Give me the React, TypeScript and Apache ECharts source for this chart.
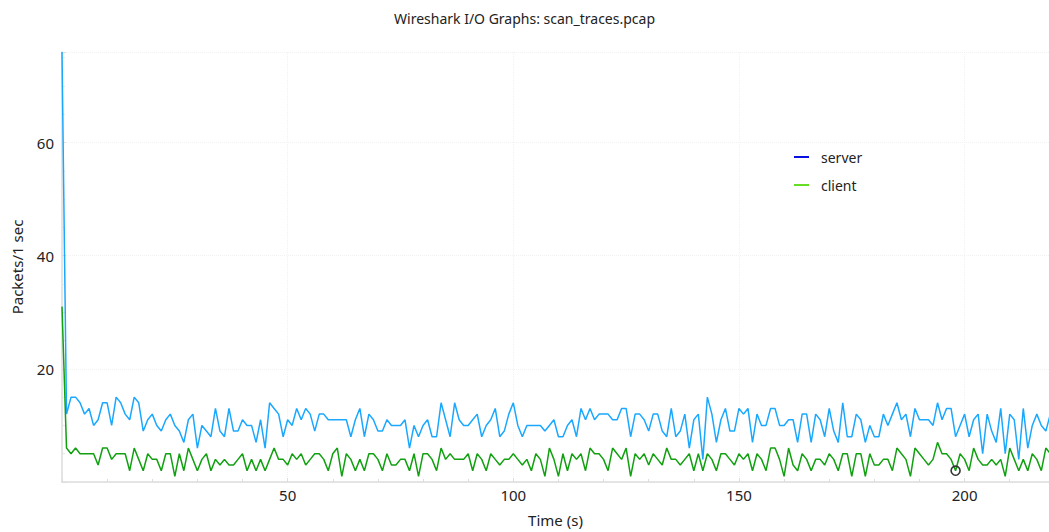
import { useEffect, useRef } from "react";
import * as echarts from "echarts";

const chartTitle = "Wireshark I/O Graphs: scan_traces.pcap";
const xAxisName = "Time (s)";
const yAxisName = "Packets/1 sec";
const seriesNames = ["server", "client"];

// packets per 1-second interval, starting at t = 0
const serverValues = [
  76, 12, 15, 15, 14, 12, 13, 10, 11, 14, 14, 10, 15, 14, 12, 11, 15, 14, 9, 11,
  12, 10, 9, 11, 12, 10, 9, 7, 11, 12, 6, 10, 9, 8, 13, 9, 8, 13, 9, 9,
  11, 10, 10, 7, 11, 6, 14, 13, 12, 8, 11, 10, 13, 11, 13, 12, 9, 12, 12, 11,
  11, 11, 11, 11, 8, 11, 13, 8, 12, 11, 9, 9, 11, 10, 10, 10, 11, 6, 10, 8,
  10, 11, 8, 8, 14, 11, 8, 14, 11, 10, 10, 11, 12, 8, 10, 11, 13, 8, 9, 12,
  14, 10, 8, 10, 10, 10, 10, 9, 10, 11, 8, 8, 10, 11, 8, 13, 11, 13, 11, 12,
  12, 12, 11, 11, 13, 13, 8, 12, 12, 11, 9, 12, 12, 9, 8, 13, 8, 9, 12, 6,
  11, 12, 4, 15, 12, 7, 11, 13, 9, 9, 13, 12, 13, 7, 12, 10, 10, 13, 13, 10,
  10, 11, 11, 7, 12, 12, 7, 12, 11, 8, 13, 9, 7, 14, 8, 8, 12, 11, 7, 10,
  8, 8, 12, 10, 12, 14, 11, 12, 8, 13, 11, 11, 11, 10, 14, 11, 13, 13, 8, 10,
  12, 8, 11, 12, 5, 12, 9, 7, 13, 5, 12, 11, 4, 13, 6, 10, 12, 10, 9, 12,
];

const clientValues = [
  31, 6, 5, 6, 5, 5, 5, 5, 3, 6, 6, 4, 5, 5, 5, 2, 6, 4, 2, 5,
  4, 4, 2, 5, 5, 1, 5, 2, 6, 4, 2, 4, 5, 2, 4, 3, 4, 3, 3, 4,
  5, 2, 4, 2, 4, 2, 4, 6, 4, 4, 3, 5, 4, 5, 3, 4, 5, 5, 4, 2,
  5, 6, 1, 5, 4, 2, 4, 2, 5, 5, 4, 2, 5, 3, 3, 4, 4, 2, 5, 1,
  5, 5, 4, 2, 6, 4, 5, 4, 4, 4, 5, 2, 5, 4, 2, 5, 4, 3, 4, 4,
  5, 4, 3, 4, 2, 5, 4, 1, 6, 4, 1, 5, 2, 5, 4, 5, 2, 6, 5, 5,
  4, 2, 6, 5, 4, 6, 1, 5, 4, 5, 3, 5, 4, 3, 6, 4, 4, 3, 4, 5,
  2, 5, 2, 5, 4, 2, 5, 5, 4, 3, 5, 4, 5, 2, 5, 4, 2, 6, 6, 4,
  1, 6, 3, 2, 5, 4, 2, 4, 4, 3, 5, 4, 2, 5, 5, 1, 5, 5, 1, 5,
  3, 3, 4, 4, 2, 6, 5, 4, 1, 6, 5, 4, 3, 4, 7, 5, 5, 4, 2, 5,
  4, 2, 6, 4, 3, 3, 4, 3, 4, 1, 6, 4, 2, 4, 2, 5, 4, 2, 6, 5,
];

const selectedTime = 198;
const xMax = 218.7;
const yMax = 76;

const FONT = "Noto Sans";

export default function App() {
  const ref = useRef<HTMLDivElement>(null);

  useEffect(() => {
    if (!ref.current) return;
    const chart = echarts.init(ref.current, null, { renderer: "svg" });
    const serverData = serverValues.map((v, i) => [i, v]);
    const clientData = clientValues.map((v, i) => [i, v]);

    chart.setOption({
      animation: false,
      backgroundColor: "#ffffff",
      textStyle: { fontFamily: FONT },
      title: {
        text: chartTitle,
        left: "center",
        top: 6,
        textStyle: { fontFamily: FONT, fontSize: 14, fontWeight: "normal", color: "#222" },
      },
      legend: {
        orient: "vertical",
        left: 789,
        top: 145,
        icon: "rect",
        itemWidth: 15,
        itemHeight: 2,
        itemGap: 14,
        textStyle: { fontFamily: FONT, fontSize: 14, color: "#222", padding: [0, 0, 0, 7] },
        data: [
          { name: seriesNames[0], itemStyle: { color: "#0a10e0" } },
          { name: seriesNames[1], itemStyle: { color: "#66dd22" } },
        ],
      },
      grid: { left: 62, right: 0, top: 52, bottom: 48, containLabel: false },
      xAxis: {
        type: "value",
        min: 0,
        max: xMax,
        interval: 50,
        name: xAxisName,
        nameLocation: "middle",
        nameGap: 30,
        nameTextStyle: { fontFamily: FONT, fontSize: 15, color: "#222" },
        axisLine: { show: true, lineStyle: { color: "#dddddd", width: 1.5 } },
        axisTick: { show: true, inside: true, length: 4, lineStyle: { color: "#dddddd" } },
        minorTick: { show: true, splitNumber: 5, length: 3, lineStyle: { color: "#dddddd" } },
        axisLabel: {
          fontFamily: FONT,
          fontSize: 15,
          color: "#222",
          margin: 5,
          showMinLabel: false,
          showMaxLabel: false,
          formatter: (v: number) => (v === 0 ? "" : String(v)),
        },
        splitLine: { show: true, lineStyle: { color: "#f2f2f2", type: "dotted" } },
      },
      yAxis: {
        type: "value",
        min: 0,
        max: yMax,
        interval: 20,
        name: yAxisName,
        nameLocation: "middle",
        nameRotate: 90,
        nameGap: 38,
        nameTextStyle: { fontFamily: FONT, fontSize: 15, color: "#222" },
        axisLine: { show: true, lineStyle: { color: "#dddddd", width: 1.5 } },
        axisTick: { show: true, inside: true, length: 4, lineStyle: { color: "#dddddd" } },
        minorTick: { show: true, splitNumber: 4, length: 3, lineStyle: { color: "#e6e6e6" } },
        axisLabel: {
          fontFamily: FONT,
          fontSize: 15,
          color: "#222",
          margin: 8,
          showMinLabel: false,
          showMaxLabel: false,
          formatter: (v: number) => (v === 0 ? "" : String(v)),
        },
        splitLine: { show: true, lineStyle: { color: "#f2f2f2", type: "dotted" } },
      },
      series: [
        {
          name: seriesNames[0],
          type: "line",
          data: serverData,
          showSymbol: false,
          symbol: "none",
          clip: true,
          lineStyle: { color: "#1aa8ff", width: 1.5 },
          itemStyle: { color: "#1aa8ff" },
        },
        {
          name: seriesNames[1],
          type: "line",
          data: clientData,
          showSymbol: false,
          symbol: "none",
          clip: true,
          lineStyle: { color: "#10a010", width: 1.5 },
          itemStyle: { color: "#10a010" },
          markPoint: {
            symbol: "circle",
            symbolSize: 9,
            label: { show: false },
            itemStyle: { color: "rgba(0,0,0,0)", borderColor: "#333333", borderWidth: 1.6 },
            data: [{ coord: [selectedTime, clientValues[selectedTime]] }],
          },
        },
      ],
    });
    return () => chart.dispose();
  }, []);

  return (
    <div
      ref={ref}
      style={{ position: "fixed", left: 0, top: 0, width: 1049, height: 532 }}
    />
  );
}
